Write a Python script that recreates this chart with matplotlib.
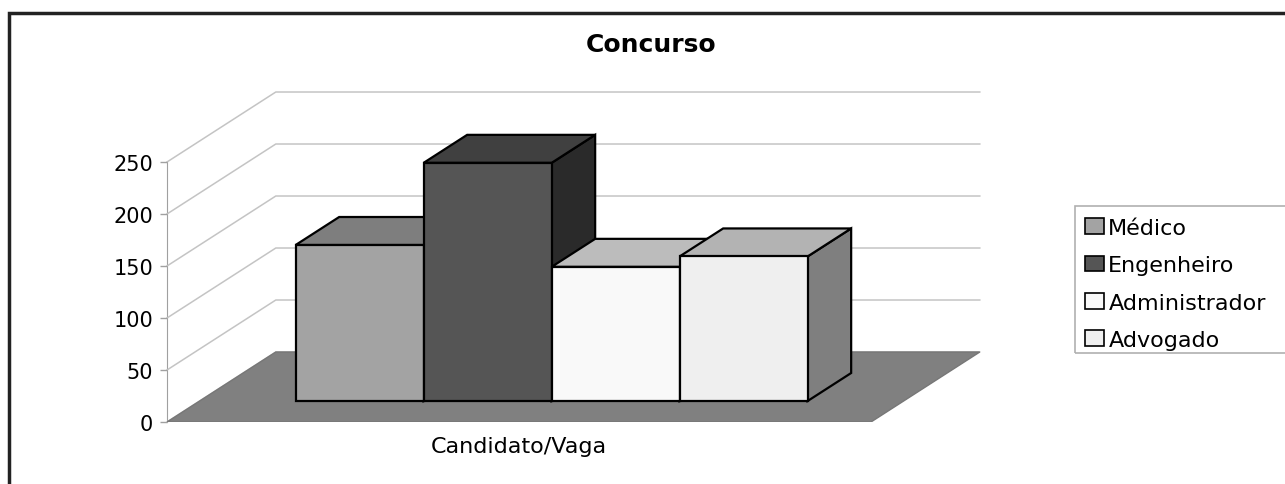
import matplotlib

matplotlib.use("Agg")
import matplotlib.pyplot as plt
from matplotlib.patches import Patch, Rectangle

# data
categories = ["Médico", "Engenheiro", "Administrador", "Advogado"]
values = [150, 229, 129, 139]
front_colors = ["#a3a3a3", "#555555", "#f9f9f9", "#efefef"]
top_colors = ["#7e7e7e", "#404040", "#bcbcbc", "#b3b3b3"]
side_colors = ["#6a6a6a", "#2a2a2a", "#8a8a8a", "#7f7f7f"]
y_ticks = [0, 50, 100, 150, 200, 250]
x_label = "Candidato/Vaga"
title = "Concurso"

# oblique 3d look, in data units (1 unit on x = one bar width)
gap = 0.75
floor_w = len(categories) + 2 * gap
depth_dx = 0.85
depth_dy = 67.3
d0, d1 = 0.3, 0.7
y_top = max(y_ticks)

W, H = 1285, 485
fig = plt.figure(figsize=(W / 100, H / 100), dpi=100)
plt.rcParams["font.family"] = ["DejaVu Sans"]

ax_left, ax_bottom = 167, 62
ax_w = (floor_w + depth_dx) * 128
ax_h = (y_top + depth_dy) * 1.04
ax = fig.add_axes((ax_left / W, ax_bottom / H, ax_w / W, ax_h / H))
ax.set_xlim(0, floor_w + depth_dx)
ax.set_ylim(0, y_top + depth_dy)

# back wall gridlines
for v in y_ticks:
    ax.plot(
        [0, depth_dx, floor_w + depth_dx],
        [v, v + depth_dy, v + depth_dy],
        color="#c4c4c4",
        lw=1.1,
        clip_on=False,
        zorder=1,
    )

# floor
ax.fill(
    [0, floor_w, floor_w + depth_dx, depth_dx],
    [0, 0, depth_dy, depth_dy],
    facecolor="#808080",
    edgecolor="#777777",
    lw=1,
    zorder=2,
)

# bars, drawn left to right so later ones hide earlier side faces
dd = d1 - d0
for i, v in enumerate(values):
    x0 = gap + i + d0 * depth_dx
    yb = d0 * depth_dy
    ox, oy = dd * depth_dx, dd * depth_dy
    z = 3 + i
    ax.fill(
        [x0 + 1, x0 + 1 + ox, x0 + 1 + ox, x0 + 1],
        [yb, yb + oy, yb + v + oy, yb + v],
        facecolor=side_colors[i],
        edgecolor="black",
        lw=1.6,
        zorder=z,
    )
    ax.fill(
        [x0, x0 + 1, x0 + 1 + ox, x0 + ox],
        [yb + v, yb + v, yb + v + oy, yb + v + oy],
        facecolor=top_colors[i],
        edgecolor="black",
        lw=1.6,
        zorder=z,
    )
    ax.fill(
        [x0, x0 + 1, x0 + 1, x0],
        [yb, yb, yb + v, yb + v],
        facecolor=front_colors[i],
        edgecolor="black",
        lw=1.6,
        zorder=z,
    )

# value axis on the front left edge
for s in ["top", "right", "bottom"]:
    ax.spines[s].set_visible(False)
ax.spines["left"].set_bounds(0, y_top)
ax.spines["left"].set_color("#a0a0a0")
ax.spines["left"].set_zorder(0)
ax.set_yticks(y_ticks)
ax.tick_params(axis="y", length=5, width=1, color="#a0a0a0", pad=5, labelsize=15)
ax.set_xticks([])
ax.patch.set_visible(False)

ax.annotate(
    x_label,
    xy=(floor_w / 2, 0),
    xytext=(0, -17),
    textcoords="offset points",
    ha="center",
    va="center",
    fontsize=16,
    annotation_clip=False,
)

fig.text(651 / W, 1 - 45 / H, title, ha="center", va="center", fontsize=18, fontweight="bold")

handles = [Patch(facecolor=c, edgecolor="black", lw=1.2) for c in front_colors]
fig.legend(
    handles,
    categories,
    loc="upper left",
    bbox_to_anchor=(1075 / W, 1 - 209 / H),
    fontsize=16,
    frameon=False,
    handlelength=0.85,
    handleheight=0.7,
    handletextpad=0.2,
    labelspacing=0.78,
    borderpad=0.45,
    borderaxespad=0,
)
# legend frame runs off the right edge like the source
fig.patches.append(
    Rectangle(
        (1075 / W, 1 - 354 / H),
        0.2,
        147 / H,
        transform=fig.transFigure,
        fill=False,
        edgecolor="#b0b0b0",
        lw=1.2,
    )
)

# outer chart border, cut off at right and bottom like the source
fig.patches.append(
    Rectangle(
        (9 / W, -0.05),
        1.1,
        1.05 - 14 / H,
        transform=fig.transFigure,
        fill=False,
        edgecolor="#222222",
        lw=2.5,
    )
)

fig.savefig("out.png", dpi=100)
